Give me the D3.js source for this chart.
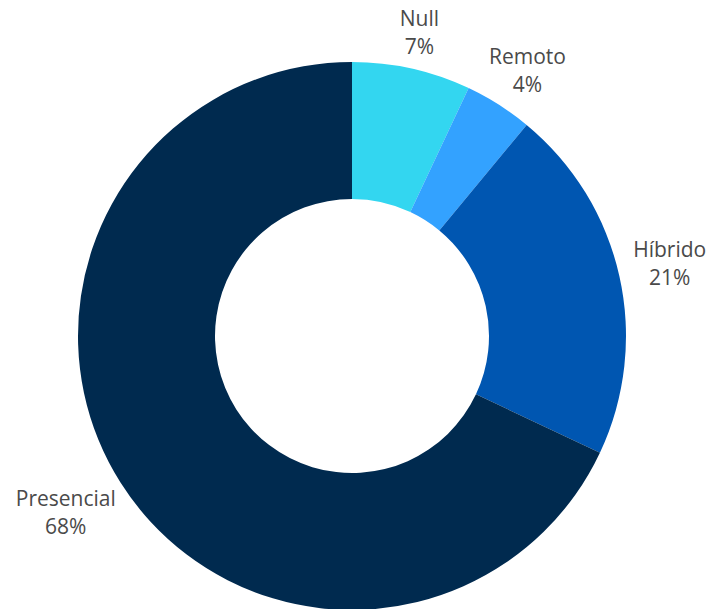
<!DOCTYPE html>
<html><head><meta charset="utf-8">
<script src="https://cdn.jsdelivr.net/npm/d3@7"></script>
<style>html,body{margin:0;padding:0;background:#fff;}svg{display:block;}</style>
</head><body>
<svg id="chart" width="708" height="609"></svg>
<script>
const categories = ["Null", "Remoto", "Híbrido", "Presencial"];
const values = [7, 4, 21, 68];
const colors = ["#33d6f0", "#33a2ff", "#0056b1", "#002a4f"];

const W = 708, H = 609, cx = 352, cy = 336, rOuter = 274, rInner = 137;
const svg = d3.select("#chart");
const g = svg.append("g").attr("transform", `translate(${cx},${cy})`);

const data = categories.map((c, i) => ({ name: c, value: values[i], color: colors[i] }));
const pie = d3.pie().value(d => d.value).sort(null).startAngle(0).endAngle(2 * Math.PI);
const arc = d3.arc().innerRadius(rInner).outerRadius(rOuter);
const arcs = pie(data);

g.selectAll("path.slice").data(arcs).enter().append("path")
  .attr("class", "slice").attr("d", arc).attr("fill", d => d.data.color);

const total = d3.sum(values);
const fmt = v => Math.round(v / total * 100) + "%";
const labelR = 289, lineH = 28, fontSize = 21, capH = 15;
const visH = lineH + capH;

arcs.forEach(d => {
  const a = (d.startAngle + d.endAngle) / 2;
  const sx = Math.sin(a), cyy = -Math.cos(a);
  const px = labelR * sx, py = labelR * cyy;
  const t = g.append("text")
    .attr("text-anchor", "middle")
    .attr("font-family", "'Open Sans', 'Noto Sans', sans-serif")
    .attr("font-size", fontSize)
    .attr("fill", "#4a4a4a");
  t.append("tspan").attr("x", 0).attr("y", 0).text(d.data.name);
  t.append("tspan").attr("x", 0).attr("y", lineH).text(fmt(d.data.value));
  const w = t.node().getBBox().width;
  const bx = px + sx * w / 2;
  const by = py + Math.sign(cyy) * Math.min(1, 2 * Math.abs(cyy)) * visH / 2;
  // visual centre of the two-line block sits (lineH - capH)/2 below first baseline
  const baseline = by - (lineH - capH) / 2;
  t.attr("transform", `translate(${bx},${baseline})`);
});
</script>
</body></html>
